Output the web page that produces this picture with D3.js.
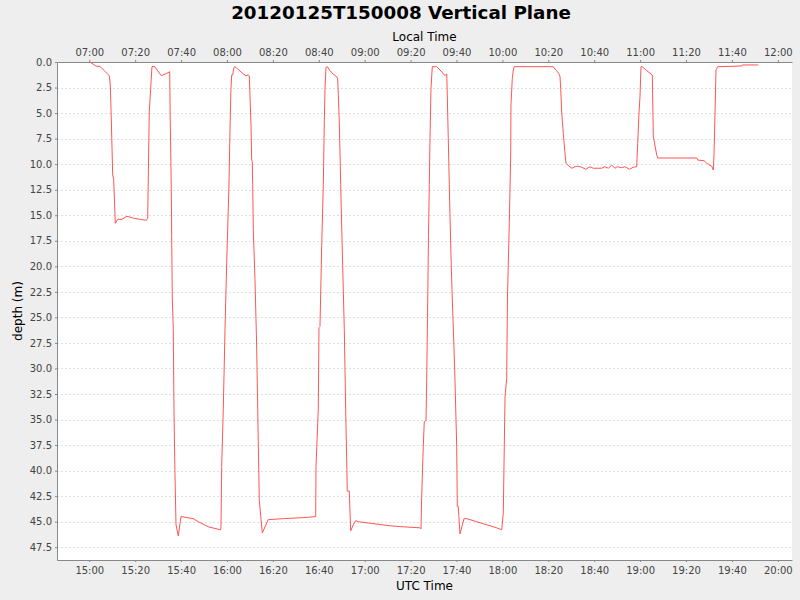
<!DOCTYPE html>
<html>
<head>
<meta charset="utf-8">
<script src="https://cdn.jsdelivr.net/npm/d3@7"></script>
<style>
  body { margin: 0; background: #eeeeee; }
  text { font-family: "DejaVu Sans", sans-serif; }
</style>
</head>
<body>
<svg width="800" height="600"></svg>
<script>
// glider dive profile, UTC times on 2012-01-25
var times = [
  '15:00:08','15:01:11','15:02:55','15:04:47','15:08:43','15:09:09','15:09:35','15:10:12','15:10:38',
  '15:11:20','15:12:22','15:14:15','15:16:26','15:19:21','15:22:13','15:24:50','15:25:27','15:26:08',
  '15:27:19','15:28:30','15:31:22','15:33:51','15:35:02','15:35:17','15:35:44','15:35:54','15:36:10',
  '15:36:36','15:36:54','15:37:20','15:37:47','15:38:47','15:39:58','15:45:19','15:47:30','15:51:51',
  '15:57:15','15:57:23','15:57:41','15:58:23','15:59:08','15:59:52','16:00:52','16:01:18','16:01:44',
  '16:02:03','16:02:29','16:03:03','16:03:29','16:04:14','16:07:06','16:08:17','16:09:17','16:09:43',
  '16:10:01','16:10:28','16:10:46','16:11:01','16:11:12','16:11:28','16:12:12','16:12:56','16:13:23',
  '16:14:04','16:15:23','16:17:59','16:24:32','16:33:15','16:38:39','16:38:47','16:39:47','16:40:05',
  '16:40:31','16:41:16','16:41:58','16:42:24','16:42:42','16:43:08','16:43:42','16:44:53','16:46:19',
  '16:47:48','16:48:14','16:48:30','16:48:56','16:49:14','16:49:32','16:50:25','16:51:07','16:51:43',
  '16:52:25','16:53:17','16:53:54','16:55:02','16:56:05','16:57:13','17:11:01','17:16:49','17:24:06',
  '17:24:32','17:24:50','17:25:32','17:25:58','17:26:43','17:27:01','17:27:22','17:27:48','17:28:09',
  '17:28:27','17:28:53','17:29:27','17:31:22','17:32:49','17:34:59','17:35:44','17:35:59','17:36:25',
  '17:36:52','17:37:10','17:37:36','17:38:02','17:38:55','17:39:20','17:40:05','17:40:21','17:40:47',
  '17:41:31','17:43:16','17:44:26','17:57:31','17:58:39','17:59:41','18:00:23','18:01:08','18:01:52',
  '18:02:13','18:03:00','18:03:37','18:03:44','18:04:19','18:04:45','18:05:11','18:22:11','18:22:55',
  '18:23:40','18:24:40','18:25:06','18:25:24','18:25:50','18:26:32','18:27:16','18:27:43','18:28:43',
  '18:30:11','18:31:38','18:32:38','18:34:33','18:36:17','18:38:10','18:39:36','18:43:16','18:44:42',
  '18:46:08','18:47:37','18:49:04','18:50:04','18:51:59','18:53:25','18:55:17','18:57:02','18:58:31',
  '18:58:57','18:59:31','18:59:57','19:00:23','19:00:58','19:02:53','19:05:19','19:05:46','19:07:14',
  '19:07:41','19:24:39','19:25:05','19:27:50','19:29:01','19:31:11','19:31:53','19:32:12','19:32:38',
  '19:33:04','19:33:49','19:44:16','19:44:32','19:51:30'
];
var depths = [
  0.0, 0.13, 0.4, 0.45, 1.34, 2.25, 5.5, 11.06, 11.5,
  15.8, 15.4, 15.4, 15.1, 15.3, 15.4, 15.5, 15.3, 4.9,
  0.45, 0.45, 1.34, 1.1, 0.95, 5.84, 12.4, 17.0, 23.0,
  26.2, 34.0, 40.3, 45.3, 46.4, 44.5, 44.7, 45.0, 45.5,
  45.8, 45.5, 39.6, 34.0, 26.2, 19.7, 12.0, 6.8, 2.6,
  1.27, 1.27, 0.52, 0.46, 0.6, 1.17, 1.34, 1.27, 1.34,
  3.2, 6.2, 9.6, 9.76, 12.0, 16.4, 21.3, 27.9, 34.0,
  42.9, 46.1, 44.8, 44.7, 44.6, 44.5, 39.6, 34.0, 26.0,
  25.9, 18.0, 12.0, 5.84, 2.6, 0.52, 0.46, 0.85, 1.2,
  1.43, 1.66, 3.2, 5.84, 8.8, 12.0, 20.0, 26.2, 34.0,
  42.0, 42.0, 45.9, 45.3, 44.9, 45.0, 45.4, 45.5, 45.6,
  45.7, 42.5, 37.6, 35.2, 35.1, 31.1, 25.0, 17.0, 12.0,
  7.5, 2.6, 0.46, 0.46, 0.78, 1.34, 1.17, 3.2, 7.5,
  12.0, 15.0, 18.9, 22.3, 28.0, 31.1, 37.6, 43.5, 43.5,
  46.2, 44.7, 44.7, 45.6, 45.7, 45.8, 44.2, 32.8, 31.0,
  23.0, 15.8, 9.1, 4.2, 1.6, 0.78, 0.46, 0.46, 0.68,
  0.85, 1.17, 1.43, 2.6, 4.9, 7.0, 8.9, 9.9, 10.15,
  10.4, 10.25, 10.2, 10.3, 10.5, 10.25, 10.4, 10.4, 10.25,
  10.4, 10.1, 10.4, 10.25, 10.35, 10.25, 10.5, 10.3, 10.25,
  7.96, 5.0, 3.4, 0.46, 0.46, 0.85, 1.27, 7.3, 9.1,
  9.4, 9.4, 9.6, 9.66, 9.9, 10.2, 10.57, 9.1, 5.0,
  0.78, 0.46, 0.39, 0.29, 0.29
];
var depthTicks = d3.range(0, 48, 2.5);
var utcOffsetHours = -8;

var day = '2012-01-25T';
var parse = function(s) { return new Date(day + s + 'Z'); };
var data = times.map(function(t, i) { return { t: parse(t), d: depths[i] }; });

var plotLeft = 57, plotRight = 792, plotTop = 62, plotBottom = 560;

var svg = d3.select('svg');

var x = d3.scaleUtc()
    .domain([parse('14:45:56'), parse('20:06:11')])
    .range([plotLeft, plotRight]);

var xLocal = d3.scaleUtc()
    .domain(x.domain().map(function(d) { return new Date(+d + utcOffsetHours * 3600000); }))
    .range([plotLeft, plotRight]);

var y = d3.scaleLinear()
    .domain([0, 48.75])
    .range([plotTop, plotBottom]);

svg.append('rect')
    .attr('x', plotLeft).attr('y', plotTop)
    .attr('width', plotRight - plotLeft).attr('height', plotBottom - plotTop)
    .attr('fill', '#ffffff');

// horizontal grid
svg.append('g')
    .selectAll('line')
    .data(depthTicks)
    .join('line')
    .attr('x1', plotLeft).attr('x2', plotRight)
    .attr('y1', function(d) { return Math.round(y(d)) + 0.5; })
    .attr('y2', function(d) { return Math.round(y(d)) + 0.5; })
    .attr('stroke', '#e0e0e0')
    .attr('stroke-dasharray', '2,2');

var fmt = d3.utcFormat('%H:%M');

var bottomAxis = svg.append('g')
    .attr('transform', 'translate(0,' + plotBottom + ')')
    .call(d3.axisBottom(x).ticks(d3.utcMinute.every(20)).tickFormat(fmt).tickSize(2).tickSizeOuter(0));

var topAxis = svg.append('g')
    .attr('transform', 'translate(0,' + plotTop + ')')
    .call(d3.axisTop(xLocal).ticks(d3.utcMinute.every(20)).tickFormat(fmt).tickSize(2).tickSizeOuter(0));

var leftAxis = svg.append('g')
    .attr('transform', 'translate(' + plotLeft + ',0)')
    .call(d3.axisLeft(y).tickValues(depthTicks).tickFormat(d3.format('.1f')).tickSize(2).tickSizeOuter(0));

[bottomAxis, topAxis, leftAxis].forEach(function(g) {
  g.selectAll('.domain').attr('stroke', '#888888');
  g.selectAll('.tick line').attr('stroke', '#888888');
  g.selectAll('.tick text')
      .attr('fill', '#444444')
      .style('font-family', '"DejaVu Sans", sans-serif')
      .style('font-size', '10px');
});
bottomAxis.selectAll('.tick text').attr('dy', '0.85em');
topAxis.selectAll('.tick text').attr('dy', '-0.1em');

svg.append('path')
    .datum(data)
    .attr('fill', 'none')
    .attr('stroke', '#ff5555')
    .attr('stroke-width', 1)
    .attr('d', d3.line()
        .x(function(d) { return x(d.t); })
        .y(function(d) { return y(d.d); }));

svg.append('text')
    .text('20120125T150008 Vertical Plane')
    .attr('x', 401).attr('y', 19)
    .attr('text-anchor', 'middle')
    .attr('font-size', '18.3')
    .attr('font-weight', 'bold');

svg.append('text')
    .text('Local Time')
    .attr('x', (plotLeft + plotRight) / 2).attr('y', 41)
    .attr('text-anchor', 'middle')
    .attr('font-size', '12');

svg.append('text')
    .text('UTC Time')
    .attr('x', (plotLeft + plotRight) / 2).attr('y', 590)
    .attr('text-anchor', 'middle')
    .attr('font-size', '12');

svg.append('text')
    .text('depth (m)')
    .attr('transform', 'translate(22,' + (plotTop + plotBottom) / 2 + ') rotate(-90)')
    .attr('text-anchor', 'middle')
    .attr('font-size', '12');
</script>
</body>
</html>
